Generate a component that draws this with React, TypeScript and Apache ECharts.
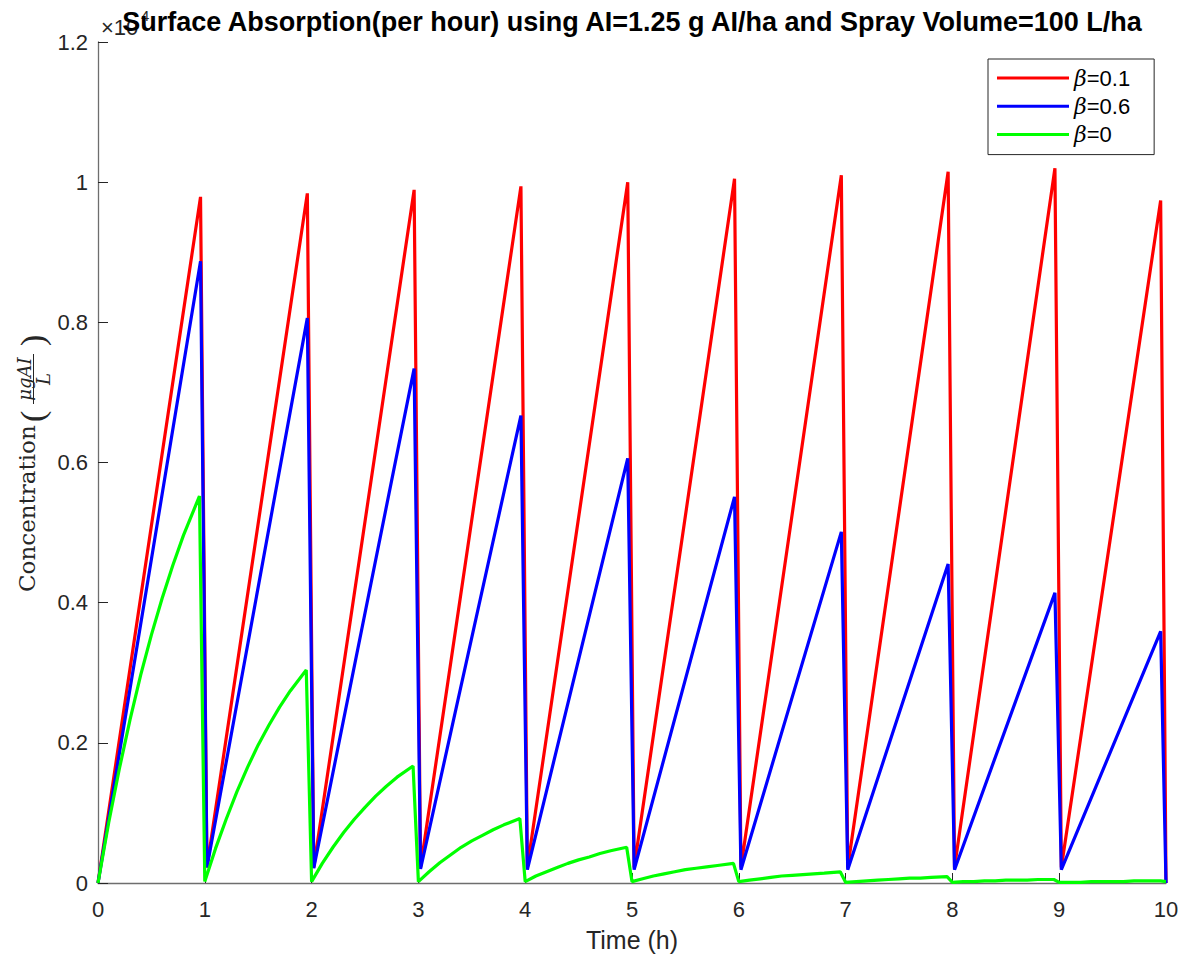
import React, { useEffect, useRef } from 'react';
import * as echarts from 'echarts';

const TITLE = 'Surface Absorption(per hour) using AI=1.25 g AI/ha and Spray Volume=100 L/ha';
const X_LABEL = 'Time (h)';
const SERIES_NAMES = ['β=0.1', 'β=0.6', 'β=0'];
const SERIES_COLORS = ['#ff0000', '#0000ff', '#00ff00'];

const X_MIN = 0;
const X_MAX = 10;
const X_STEP = 1;
const Y_MIN = 0;
const Y_MAX = 1.2;
const Y_STEP = 0.2;

// times for the piecewise-linear red / blue curves (h)
const LINEAR_T = [0, 0.96, 1.02, 1.96, 2.02, 2.96, 3.02, 3.96, 4.02, 4.96, 5.02, 5.96, 6.02, 6.96, 7.02, 7.96, 8.02, 8.96, 9.02, 9.95, 10.0];
// concentration (x 10^4)
const RED_V = [0, 0.979, 0.022, 0.984, 0.022, 0.989, 0.022, 0.994, 0.022, 1.0, 0.022, 1.005, 0.022, 1.010, 0.022, 1.015, 0.022, 1.020, 0.022, 0.974, 0];
const BLUE_V = [0, 0.887, 0.022, 0.806, 0.021, 0.734, 0.02, 0.667, 0.019, 0.606, 0.019, 0.551, 0.019, 0.501, 0.019, 0.455, 0.019, 0.414, 0.019, 0.359, 0];

// green (beta = 0): sample offsets within each hour, and values per hour
const GREEN_OFFSETS = [0, 0.1, 0.2, 0.3, 0.4, 0.5, 0.6, 0.7, 0.8, 0.95];
const GREEN_H0 = [0, 0.086, 0.163, 0.233, 0.297, 0.354, 0.406, 0.453, 0.496, 0.552];
const GREEN_H1 = [0.002, 0.049, 0.091, 0.130, 0.165, 0.197, 0.225, 0.251, 0.274, 0.304];
const GREEN_H2 = [0.002, 0.028, 0.051, 0.072, 0.091, 0.108, 0.124, 0.138, 0.151, 0.167];
const GREEN_H3 = [0.002, 0.016, 0.029, 0.040, 0.051, 0.060, 0.068, 0.076, 0.083, 0.092];
const GREEN_H4 = [0.002, 0.010, 0.016, 0.022, 0.028, 0.033, 0.037, 0.042, 0.046, 0.051];
const GREEN_H5 = [0.002, 0.006, 0.010, 0.013, 0.016, 0.019, 0.021, 0.023, 0.025, 0.028];
const GREEN_H6 = [0.002, 0.004, 0.006, 0.008, 0.010, 0.011, 0.012, 0.013, 0.014, 0.016];
const GREEN_H7 = [0.001, 0.002, 0.003, 0.004, 0.005, 0.006, 0.007, 0.007, 0.008, 0.009];
const GREEN_H8 = [0.001, 0.002, 0.002, 0.003, 0.003, 0.004, 0.004, 0.004, 0.005, 0.005];
const GREEN_H9 = [0.001, 0.001, 0.001, 0.002, 0.002, 0.002, 0.002, 0.003, 0.003, 0.003];
const GREEN_END = [10.0, 0.002];

const AXIS_COLOR = '#262626';
const AXIS_LINE_COLOR = '#6e6e6e';
const SANS = 'Liberation Sans, Arial, Helvetica, sans-serif';
const SERIF = 'DejaVu Serif, serif';

export default function App() {
  const ref = useRef<HTMLDivElement>(null);

  useEffect(() => {
    if (!ref.current) return;
    const chart = echarts.init(ref.current, undefined, { renderer: 'svg' });

    const redData = LINEAR_T.map((t, i) => [t, RED_V[i]]);
    const blueData = LINEAR_T.map((t, i) => [t, BLUE_V[i]]);
    const greenHours = [GREEN_H0, GREEN_H1, GREEN_H2, GREEN_H3, GREEN_H4, GREEN_H5, GREEN_H6, GREEN_H7, GREEN_H8, GREEN_H9];
    const greenData: number[][] = [];
    greenHours.forEach((seg, k) => {
      seg.forEach((v, i) => greenData.push([k + GREEN_OFFSETS[i], v]));
    });
    greenData.push(GREEN_END);

    const datasets = [redData, blueData, greenData];

    chart.setOption({
      animation: false,
      backgroundColor: '#ffffff',
      grid: { left: 98, right: 23, top: 42, bottom: 77, containLabel: false },
      xAxis: {
        type: 'value',
        min: X_MIN,
        max: X_MAX,
        interval: X_STEP,
        name: X_LABEL,
        nameLocation: 'middle',
        nameGap: 44,
        nameTextStyle: { fontSize: 25, color: AXIS_COLOR, fontFamily: SANS },
        axisLine: { show: true, onZero: false, lineStyle: { color: AXIS_LINE_COLOR, width: 1.3 } },
        axisTick: { show: true, inside: true, length: 10, lineStyle: { color: AXIS_COLOR, width: 1 } },
        axisLabel: { show: true, fontSize: 22, color: AXIS_COLOR, fontFamily: SANS, margin: 15 },
        splitLine: { show: false },
      },
      yAxis: {
        type: 'value',
        min: Y_MIN,
        max: Y_MAX,
        interval: Y_STEP,
        axisLine: { show: true, onZero: false, lineStyle: { color: AXIS_LINE_COLOR, width: 1.3 } },
        axisTick: { show: true, inside: true, length: 10, lineStyle: { color: AXIS_COLOR, width: 1 } },
        axisLabel: {
          show: true,
          fontSize: 22,
          color: AXIS_COLOR,
          fontFamily: SANS,
          margin: 10,
          formatter: (v: number) => String(Number(v.toFixed(1))),
        },
        splitLine: { show: false },
      },
      legend: {
        show: true,
        orient: 'vertical',
        left: 988,
        top: 59,
        data: SERIES_NAMES,
        icon: 'rect',
        itemWidth: 72,
        itemHeight: 3,
        itemGap: 6.3,
        itemTextGap: 8,
        padding: [8, 24, 9, 9],
        borderColor: AXIS_COLOR,
        borderWidth: 1,
        backgroundColor: '#ffffff',
        selectedMode: false,
        textStyle: {
          fontSize: 22,
          lineHeight: 22,
          color: '#000',
          fontFamily: SANS,
          rich: {
            b: { fontSize: 22, lineHeight: 22, fontFamily: SERIF, fontStyle: 'italic', color: '#000' },
          },
        },
        formatter: (name: string) => name.replace('β', '{b|β}'),
      },
      series: datasets.map((d, i) => ({
        name: SERIES_NAMES[i],
        type: 'line',
        data: d,
        showSymbol: false,
        symbol: 'none',
        clip: false,
        lineStyle: { color: SERIES_COLORS[i], width: 3.2 },
        itemStyle: { color: SERIES_COLORS[i] },
        z: 2 + i,
      })),
      graphic: [
        {
          type: 'text',
          x: 101,
          y: 27.5,
          z: 5,
          style: { text: '×10', fontSize: 22, fill: AXIS_COLOR, fontFamily: SANS, align: 'left', verticalAlign: 'middle' },
        },
        {
          type: 'text',
          x: 141,
          y: 15,
          z: 5,
          style: { text: '4', fontSize: 15, fill: AXIS_COLOR, fontFamily: SANS, align: 'left', verticalAlign: 'middle' },
        },
        {
          type: 'text',
          x: 632,
          y: 22,
          z: 10,
          style: { text: TITLE, fontSize: 27, fontWeight: 'bold', fill: '#000', fontFamily: SANS, align: 'center', verticalAlign: 'middle' },
        },
        {
          type: 'group',
          x: 32,
          y: 462,
          rotation: Math.PI / 2,
          z: 5,
          children: [
            {
              type: 'text',
              x: -130,
              y: -5,
              style: { text: 'Concentration', fontSize: 23, fill: AXIS_COLOR, fontFamily: SERIF, align: 'left', verticalAlign: 'middle' },
            },
            {
              type: 'text',
              x: 40,
              y: 0,
              style: { text: '(', fontSize: 34, fill: AXIS_COLOR, fontFamily: 'Liberation Serif, serif', align: 'left', verticalAlign: 'middle' },
            },
            {
              type: 'text',
              x: 83,
              y: -8,
              style: { text: 'μgAI', fontSize: 18, fontStyle: 'italic', fill: AXIS_COLOR, fontFamily: SERIF, align: 'center', verticalAlign: 'middle' },
            },
            {
              type: 'line',
              shape: { x1: 58, y1: 1.5, x2: 108, y2: 1.5 },
              style: { stroke: AXIS_COLOR, lineWidth: 1 },
            },
            {
              type: 'text',
              x: 83,
              y: 11,
              style: { text: 'L', fontSize: 18, fontStyle: 'italic', fill: AXIS_COLOR, fontFamily: SERIF, align: 'center', verticalAlign: 'middle' },
            },
            {
              type: 'text',
              x: 116,
              y: 0,
              style: { text: ')', fontSize: 34, fill: AXIS_COLOR, fontFamily: 'Liberation Serif, serif', align: 'left', verticalAlign: 'middle' },
            },
          ],
        },
      ],
    });

    return () => chart.dispose();
  }, []);

  return (
    <div
      ref={ref}
      style={{ position: 'fixed', left: 0, top: 0, width: 1189, height: 960, background: '#ffffff' }}
    />
  );
}
